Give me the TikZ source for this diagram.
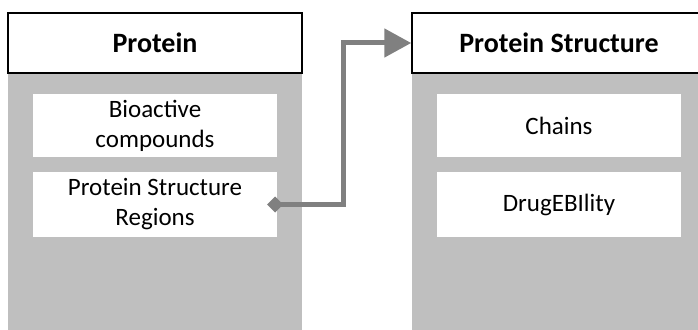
\documentclass[tikz,border=0pt]{standalone}
\usepackage{fontspec}
\setmainfont{Carlito}
\usetikzlibrary{arrows.meta,positioning}

\definecolor{panelgray}{HTML}{BFBFBF}
\definecolor{linkgray}{HTML}{808080}

\tikzset{
  head/.style={draw=black, line width=1.5pt, fill=white, minimum width=294pt,
    minimum height=60pt, font=\bfseries\fontsize{28}{33}\selectfont},
  panel/.style={fill=panelgray, minimum width=294pt, minimum height=262pt, anchor=north},
  item/.style={fill=white, minimum width=244pt, align=center,
    font=\fontsize{25}{30}\selectfont},
  link/.style={draw=linkgray, line width=5pt, {Diamond[length=16pt,width=16pt]}-{Triangle[length=27pt,width=28pt]}}
}

\begin{document}
\begin{tikzpicture}[x=1pt,y=-1pt]

\useasboundingbox (0,0) rectangle (698,329);

% left class
\node [panel] (pbody) at (155,73) {};
\node [head] (prot) at (155,43) {Protein};
\node [item, minimum height=63pt] (bio) at (155,125.5) {Bioactive\\compounds};
\node [item, minimum height=65pt] (reg) at (155,204.5) {Protein Structure\\Regions};

% right class
\node [panel] (sbody) at (559,73) {};
\node [head] (pst) at (559,43) {Protein Structure};
\node [item, minimum height=63pt] (chains) at (559,125.5) {Chains};
\node [item, minimum height=65pt] (drug) at (559,204.5) {DrugEBIlity};

\draw [link] ([xshift=-10pt]reg.east) -| ([xshift=-68pt]pst.west) -- (pst.west);

\end{tikzpicture}
\end{document}
